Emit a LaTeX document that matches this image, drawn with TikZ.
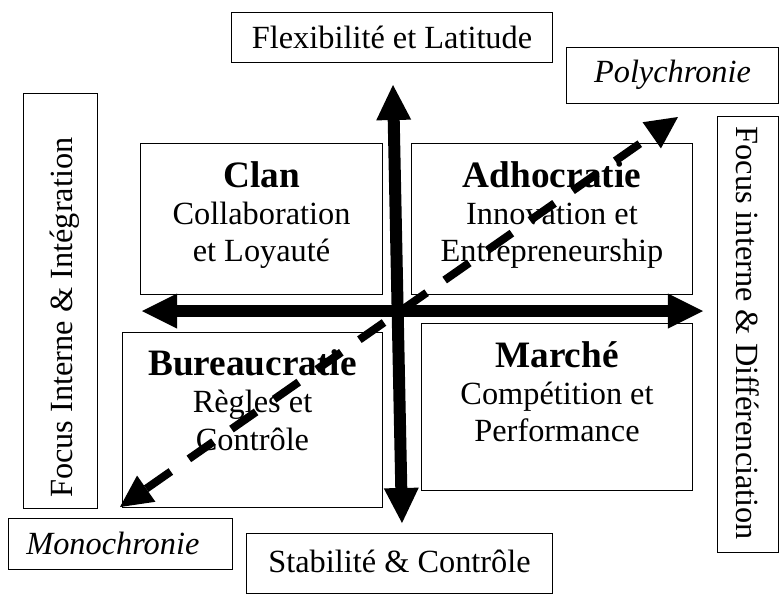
\documentclass[tikz,border=0pt]{standalone}
\usepackage{fontspec}
\setmainfont{Liberation Serif}
\usetikzlibrary{positioning, arrows.meta}
\tikzstyle{quadrant} = [rectangle, minimum width=6cm, minimum height=3.75cm, draw=black, line width=0.7pt, fill=white, inner sep=0pt]
\tikzstyle{sidebox} = [rectangle, draw=black, line width=0.7pt, fill=white, inner sep=0pt, font=\fontsize{23}{27}\selectfont]
\tikzstyle{quadtext} = [align=center, inner sep=0pt, font=\fontsize{23}{26.5}\selectfont]
\tikzstyle{sidetext} = [inner sep=0pt, font=\fontsize{23}{27}\selectfont]
\tikzstyle{axisarrow} = [line width=0.3cm, {Triangle[length=0.875cm, width=0.875cm, line width=0pt]}-{Triangle[length=0.875cm, width=0.875cm, line width=0pt]}]
\tikzstyle{timearrow} = [line width=0.2cm, dash pattern=on 0.75cm off 0.55cm, {Triangle[length=0.8cm, width=0.8cm, line width=0pt]}-{Triangle[length=0.8cm, width=0.8cm, line width=0pt]}]
\newcommand{\quadtitle}[1]{{\fontsize{26.5}{30}\selectfont\bfseries #1}}

\begin{document}
\begin{tikzpicture}[x=0.025cm, y=-0.025cm]
        \useasboundingbox (0,0) rectangle (779,594);
        % axes labels
        \node (flex) [sidebox, minimum width=8cm, minimum height=1.25cm] at (392,37) {Flexibilité et Latitude};
        \node (stab) [sidebox, minimum width=7.625cm, minimum height=1.5cm] at (399.5,563) {};
        \node (stabtxt) [sidetext, below=12pt of stab.north] {Stabilité \& Contrôle};
        \node (integ) [sidebox, minimum width=1.825cm, minimum height=10.35cm] at (60.5,301) {};
        \node (integtxt) [sidetext, rotate=90, anchor=west] at ([xshift=3pt, yshift=7.5pt]integ.south) {Focus Interne \& Intégration};
        \node (diff) [sidebox, minimum width=1.525cm, minimum height=10.875cm] at (747.5,334.5) {};
        \node (difftxt) [sidetext, rotate=-90, anchor=west] at ([yshift=-7pt]diff.north) {Focus interne \& Différenciation};
        \node (poly) [sidebox, minimum width=5.275cm, minimum height=1.4cm, font=\fontsize{23}{27}\selectfont\itshape] at (672.5,75) {Polychronie};
        \node (mono) [sidebox, minimum width=5.575cm, minimum height=1.275cm] at (120.5,543.5) {};
        \node (monotxt) [sidetext, font=\fontsize{23}{27}\selectfont\itshape, right=12.5pt of mono.west] {Monochronie};

        % quadrants
        \node (clan) [quadrant, minimum width=6.025cm] at (261.5,219) {};
        \node (adhoc) [quadrant, minimum width=7cm] at (552,219) {};
        \node (bureau) [quadrant, minimum width=6.475cm, minimum height=4.35cm] at (252.5,420) {};
        \node (marche) [quadrant, minimum width=6.75cm, minimum height=4.15cm] at (557,407) {};
        \node (clantxt) [quadtext, below=12.5pt of clan.north] {\quadtitle{Clan}\\ Collaboration\\ et Loyauté};
        \node (adhoctxt) [quadtext, below=12.5pt of adhoc.north] {\quadtitle{Adhocratie}\\ Innovation et\\ Entrepreneurship};
        \node (bureautxt) [quadtext, below=12pt of bureau.north] {\quadtitle{Bureaucratie}\\ Règles et\\ Contrôle};
        \node (marchetxt) [quadtext, below=12.5pt of marche.north] {\quadtitle{Marché}\\ Compétition et\\ Performance};

        % arrows
        \coordinate (vtop) at (393,85);
        \coordinate (vbot) at (402,523);
        \coordinate (hleft) at (142,311);
        \coordinate (hright) at (703,311);
        \coordinate (monotip) at (120,507);
        \coordinate (polytip) at (678,117);
        \draw[axisarrow] (vbot) -- (vtop);
        \draw[axisarrow] (hleft) -- (hright);
        \draw[timearrow] (monotip) -- (polytip);
    \end{tikzpicture}
\end{document}
